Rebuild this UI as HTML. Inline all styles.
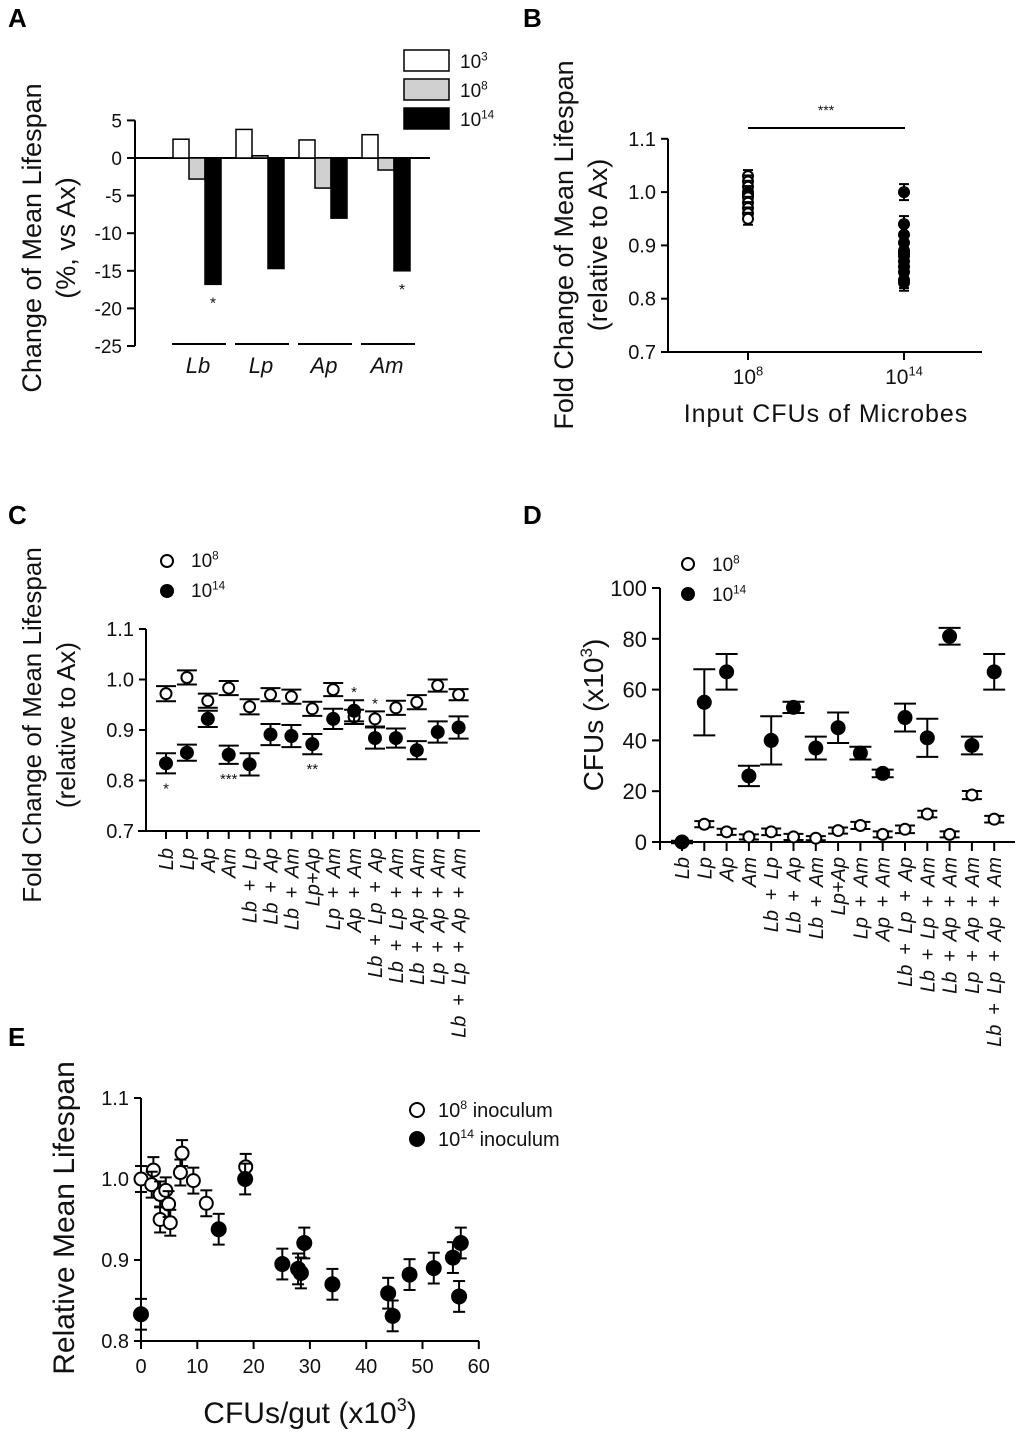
<!DOCTYPE html>
<html><head><meta charset="utf-8"><style>
html,body{margin:0;padding:0;background:#fff;}
svg{display:block;font-family:"Liberation Sans",Arial,sans-serif;}
</style></head><body>
<svg id="fig" width="1020" height="1435" viewBox="0 0 1020 1435" xmlns="http://www.w3.org/2000/svg"></svg>
<script>
// ---------- Panel A data ----------
const aGroups = ["Lb","Lp","Ap","Am"];
const aLow = [2.5, 3.8, 2.4, 3.1];
const aMid = [-2.8, 0.3, -4.0, -1.6];
const aHigh = [-16.8, -14.7, -8.0, -15.0];
const aTicks = [5,0,-5,-10,-15,-20,-25];
// ---------- Panel B data ----------
const bOpen = [1.03,1.02,1.01,1.0,0.995,0.99,0.98,0.97,0.96,0.95];
const bFilled = [1.0,0.94,0.92,0.905,0.89,0.885,0.88,0.87,0.86,0.85,0.835,0.83];
const bTicks = [1.1,1.0,0.9,0.8,0.7];
// ---------- Panel C data ----------
const combos = ["Lb","Lp","Ap","Am","Lb + Lp","Lb + Ap","Lb + Am","Lp+Ap","Lp + Am","Ap + Am","Lb + Lp + Ap","Lb + Lp + Am","Lb + Ap + Am","Lp + Ap + Am","Lb + Lp + Ap + Am"];
const cOpen = [0.972,1.004,0.958,0.983,0.946,0.970,0.966,0.942,0.980,0.926,0.922,0.944,0.955,0.988,0.970];
const cOpenErr = [0.015,0.014,0.014,0.014,0.015,0.013,0.014,0.014,0.013,0.014,0.015,0.014,0.014,0.012,0.011];
const cFilled = [0.834,0.855,0.922,0.851,0.832,0.891,0.888,0.872,0.922,0.938,0.884,0.884,0.860,0.896,0.905];
const cFilledErr = [0.02,0.016,0.016,0.018,0.022,0.021,0.022,0.02,0.02,0.021,0.021,0.019,0.018,0.021,0.022];
const cTicks = [1.1,1.0,0.9,0.8,0.7];
// ---------- Panel D data ----------
const dOpen = [0,7,4,2,4,2,1.5,4.5,6.5,3,5,11,3,18.5,9];
const dOpenErr = [0,1.2,1.2,1,1.3,1.2,0.8,1.2,1.4,1.2,1.5,1.3,1.2,1.6,1.3];
const dFilled = [0,55,67,26,40,53,37,45,35,27,49,41,81,38,67];
const dFilledErr = [0.5,13,7,4,9.5,2.2,4.5,6,2.5,1.5,5.5,7.5,3.3,3.5,7];
const dTicks = [0,20,40,60,80,100];
// ---------- Panel E data ----------
const eOpenX = [0,2.2,1.9,3.4,3.4,4.4,4.9,5.2,7.3,7.0,9.3,11.6,18.6];
const eOpenY = [1.0,1.011,0.993,0.981,0.950,0.986,0.969,0.946,1.032,1.008,0.998,0.970,1.015];
const eFilledX = [0,13.8,18.5,25.1,27.9,28.4,29.0,34.0,43.9,44.7,47.7,52.0,55.4,56.8,56.5];
const eFilledY = [0.833,0.938,1.0,0.895,0.889,0.884,0.921,0.870,0.859,0.831,0.882,0.890,0.903,0.921,0.855];
const eXTicks = [0,10,20,30,40,50,60];
const eYTicks = [1.1,1.0,0.9,0.8];

const NS="http://www.w3.org/2000/svg";
const svg=document.getElementById('fig');
function mk(tag,attrs,parent){const e=document.createElementNS(NS,tag);for(const k in attrs)e.setAttribute(k,attrs[k]);(parent||svg).appendChild(e);return e;}
function line(x1,y1,x2,y2,w,p){return mk('line',{x1,y1,x2,y2,stroke:'#000','stroke-width':w||2},p);}
function txt(x,y,s,size,p,extra){const t=mk('text',Object.assign({x,y,'font-size':size,fill:'#111'},extra||{}),p);t.textContent=s;return t;}
function supTxt(x,y,base,sup,size,p,anchor){const t=mk('text',{x,y,'font-size':size,fill:'#111','text-anchor':anchor||'start'},p);
  const a=mk('tspan',{},t);a.textContent=base;const b=mk('tspan',{dy:-size*0.4,'font-size':size*0.62},t);b.textContent=sup;
  if(arguments[7]){const c=mk('tspan',{dy:size*0.4},t);c.textContent=arguments[7];}return t;}
function grp(name){const g=mk('g',{});return g;}

// Panel letters
[['A',8,27],['B',523,27],['C',8,524],['D',523,524],['E',8,1046]].forEach(([l,x,y])=>{
  const t=txt(x,y,l,26,svg,{'font-weight':'bold',fill:'#000'});
  
  
});

// ---------------- Panel A ----------------
(function(){
  const g=grp('panel-a-bar-chart');
  const ax=135, y0=158, k=37.6/5;
  const ya=v=>y0-v*k;
  const ga=grp('panel-a-y-axis'); g.appendChild(ga);
  line(ax,ya(5),ax,ya(-25),2,ga);
  aTicks.forEach(v=>{line(ax-8,ya(v),ax,ya(v),2,ga);
    const t=txt(ax-13,ya(v)+7,String(v),19,ga,{'text-anchor':'end'});
    });
  line(ax,y0,430,y0,2,g);
  const gx=i=>173+i*63, bw=16;
  const series=[[aLow,'#fff'],[aMid,'#d0d0d0'],[aHigh,'#000']];
  aGroups.forEach((name,i)=>{
    series.forEach(([arr,fill],j)=>{
      const v=arr[i];const x=gx(i)+j*bw;
      const r=mk('rect',{x,y:Math.min(ya(v),y0),width:bw,height:Math.abs(ya(v)-y0),fill,stroke:'#000','stroke-width':1.5},g);
      
      
    });
    line(gx(i)-1,344,gx(i)+53,344,2,g);
    const t=txt(gx(i)+25,373,name,22,g,{'text-anchor':'middle','font-style':'italic'});
    
  });
  txt(gx(0)+2*bw+8,ya(aHigh[0])+24,'*',16,g,{'text-anchor':'middle'});
  txt(gx(3)+2*bw+8,ya(aHigh[3])+24,'*',16,g,{'text-anchor':'middle'});
  const lg=grp('panel-a-legend');g.appendChild(lg);
  [['#fff','3'],['#d0d0d0','8'],['#000','14']].forEach(([f,s],i)=>{
    mk('rect',{x:404,y:50+i*29,width:45,height:21,fill:f,stroke:'#000','stroke-width':1.5},lg);
    supTxt(460,68+i*29,'10',s,19,lg);
  });
  const yt=mk('text',{transform:'translate(41,238) rotate(-90)','text-anchor':'middle','font-size':27,fill:'#111'},g);yt.textContent='Change of Mean Lifespan';
  
  const yt2=mk('text',{transform:'translate(75,238) rotate(-90)','text-anchor':'middle','font-size':27,fill:'#111'},g);yt2.textContent='(%, vs Ax)';
})();

// ---------------- Panel B ----------------
(function(){
  const g=grp('panel-b-scatter');
  const ax=668, y07=352, k=53.3;
  const yb=v=>y07-(v-0.7)*10*k;
  line(ax,yb(1.1),ax,y07,2,g);
  line(662,y07,982,y07,2,g);
  bTicks.forEach(v=>{line(ax-7,yb(v),ax,yb(v),2,g);txt(ax-12,yb(v)+7,v.toFixed(1),20,g,{'text-anchor':'end'});});
  const cx=[748,904];
  cx.forEach(x=>line(x,y07,x,y07+8,2,g));
  supTxt(748,384,'10','8',21,g,'middle');
  supTxt(904,384,'10','14',21,g,'middle');
  line(748,128,905,128,2,g);
  txt(826,115,'***',14,g,{'text-anchor':'middle'});
  bOpen.forEach(v=>{const y=yb(v);line(cx[0],y-6,cx[0],y+6,2,g);line(cx[0]-5,y-6,cx[0]+5,y-6,2,g);line(cx[0]-5,y+6,cx[0]+5,y+6,2,g);
    const c=mk('circle',{cx:cx[0],cy:y,r:5,fill:'#fff',stroke:'#000','stroke-width':2},g);});
  bFilled.forEach(v=>{const y=yb(v);line(cx[1],y-8,cx[1],y+8,2,g);line(cx[1]-5,y-8,cx[1]+5,y-8,2,g);line(cx[1]-5,y+8,cx[1]+5,y+8,2,g);
    const c=mk('circle',{cx:cx[1],cy:y,r:6,fill:'#000'},g);});
  const xt=txt(826,422,'Input CFUs of Microbes',25,g,{'text-anchor':'middle','letter-spacing':'1'});
  
  const y1=mk('text',{transform:'translate(573,245) rotate(-90)','text-anchor':'middle','font-size':27,fill:'#111'},g);y1.textContent='Fold Change of Mean Lifespan';
  
  const y2=mk('text',{transform:'translate(607,245) rotate(-90)','text-anchor':'middle','font-size':27,fill:'#111'},g);y2.textContent='(relative to Ax)';
})();

function errPoint(g,x,y,ylo,yhi,cap,r,filled,name){
  line(x,ylo,x,yhi,2,g);line(x-cap,ylo,x+cap,ylo,2,g);line(x-cap,yhi,x+cap,yhi,2,g);
  const c=mk('circle',{cx:x,cy:y,r,fill:filled?'#000':'#fff',stroke:'#000','stroke-width':2},g);
  
}
function catLabels(g,xs,top){
  combos.forEach((s,i)=>{const t=mk('text',{transform:`translate(${xs(i)+7},${top}) rotate(-90)`,'text-anchor':'end','font-size':20,'word-spacing':'4','font-style':'italic',fill:'#111'},g);t.textContent=s;
    });
}

// ---------------- Panel C ----------------
(function(){
  const g=grp('panel-c-dot-plot');
  const ax=146,y07=831,k=50.5;
  const yc=v=>y07-(v-0.7)*10*k;
  const xc=i=>166+i*20.9;
  line(ax,yc(1.1),ax,y07,2,g);line(138,y07,480,y07,2,g);
  cTicks.forEach(v=>{line(ax-7,yc(v),ax,yc(v),2,g);txt(ax-12,yc(v)+7,v.toFixed(1),20,g,{'text-anchor':'end'});});
  combos.forEach((s,i)=>line(xc(i),y07,xc(i),y07+8,2,g));
  combos.forEach((s,i)=>{
    errPoint(g,xc(i),yc(cOpen[i]),yc(cOpen[i]-cOpenErr[i]),yc(cOpen[i]+cOpenErr[i]),10,5.5,false,'c-point-1e8');
    errPoint(g,xc(i),yc(cFilled[i]),yc(cFilled[i]-cFilledErr[i]),yc(cFilled[i]+cFilledErr[i]),10,6,true,'c-point-1e14');
  });
  txt(xc(0),yc(cFilled[0]-cFilledErr[0])+20,'*',15,g,{'text-anchor':'middle'});
  txt(xc(3),yc(cFilled[3]-cFilledErr[3])+20,'***',15,g,{'text-anchor':'middle'});
  txt(xc(7),yc(cFilled[7]-cFilledErr[7])+20,'**',15,g,{'text-anchor':'middle'});
  txt(xc(9),yc(cFilled[9]+cFilledErr[9])-3,'*',15,g,{'text-anchor':'middle'});
  txt(xc(10),yc(cOpen[10]+cOpenErr[10])-3,'*',15,g,{'text-anchor':'middle'});
  catLabels(g,xc,848);
  const lg=grp('panel-c-legend');g.appendChild(lg);
  mk('circle',{cx:167,cy:561,r:6,fill:'#fff',stroke:'#000','stroke-width':2},lg);
  mk('circle',{cx:167,cy:591,r:7,fill:'#000'},lg);
  supTxt(191,567,'10','8',19,lg);supTxt(191,597,'10','14',19,lg);
  const y1=mk('text',{transform:'translate(41,725) rotate(-90)','text-anchor':'middle','font-size':26,fill:'#111'},g);y1.textContent='Fold Change of Mean Lifespan';
  
  const y2=mk('text',{transform:'translate(75,725) rotate(-90)','text-anchor':'middle','font-size':26,fill:'#111'},g);y2.textContent='(relative to Ax)';
})();

// ---------------- Panel D ----------------
(function(){
  const g=grp('panel-d-dot-plot');
  const ax=660,y0=842,k=254/100;
  const yd=v=>y0-v*k;
  const xd=i=>682+i*22.3;
  line(ax,yd(100),ax,y0+8,2,g);line(ax-8,y0,1015,y0,2,g);
  dTicks.forEach(v=>{line(ax-8,yd(v),ax,yd(v),2,g);txt(ax-13,yd(v)+8,String(v),22,g,{'text-anchor':'end'});});
  combos.forEach((s,i)=>line(xd(i),y0,xd(i),y0+9,2,g));
  combos.forEach((s,i)=>{
    if(dOpen[i]>0) errPoint(g,xd(i),yd(dOpen[i]),yd(dOpen[i]-dOpenErr[i]),yd(dOpen[i]+dOpenErr[i]),10,5.5,false,'d-point-1e8');
    errPoint(g,xd(i),yd(dFilled[i]),yd(dFilled[i]-dFilledErr[i]),yd(dFilled[i]+dFilledErr[i]),11,6.5,true,'d-point-1e14');
  });
  catLabels(g,xd,857);
  const lg=grp('panel-d-legend');g.appendChild(lg);
  mk('circle',{cx:688,cy:564,r:6,fill:'#fff',stroke:'#000','stroke-width':2},lg);
  mk('circle',{cx:688,cy:594,r:7,fill:'#000'},lg);
  supTxt(712,571,'10','8',19,lg);supTxt(712,601,'10','14',19,lg);
  const yt=mk('text',{transform:'translate(603,715) rotate(-90)','text-anchor':'middle','font-size':28,fill:'#111'},g);
  
  const a=mk('tspan',{},yt);a.textContent='CFUs (x10';const b=mk('tspan',{dy:-11,'font-size':17},yt);b.textContent='3';const c=mk('tspan',{dy:11},yt);c.textContent=')';
})();

// ---------------- Panel E ----------------
(function(){
  const g=grp('panel-e-scatter');
  const ax=141,y08=1341,ky=81,kx=56.3/10;
  const ye=v=>y08-(v-0.8)*10*ky;
  const xe=v=>ax+v*kx;
  line(ax,ye(1.1),ax,y08+8,2,g);line(ax-7,y08,479,y08,2,g);
  eYTicks.forEach(v=>{line(ax-7,ye(v),ax,ye(v),2,g);txt(ax-12,ye(v)+7,v.toFixed(1),20,g,{'text-anchor':'end'});});
  eXTicks.forEach(v=>{line(xe(v),y08,xe(v),y08+8,2,g);txt(xe(v),y08+32,String(v),20,g,{'text-anchor':'middle'});});
  eOpenX.forEach((xv,i)=>errPoint(g,xe(xv),ye(eOpenY[i]),ye(eOpenY[i]-0.016),ye(eOpenY[i]+0.016),6,6.5,false,'e-point-1e8'));
  eFilledX.forEach((xv,i)=>errPoint(g,xe(xv),ye(eFilledY[i]),ye(eFilledY[i]-0.019),ye(eFilledY[i]+0.019),6,7,true,'e-point-1e14'));
  const lg=grp('panel-e-legend');g.appendChild(lg);
  mk('circle',{cx:417,cy:1110,r:7,fill:'#fff',stroke:'#000','stroke-width':2},lg);
  mk('circle',{cx:417,cy:1139,r:8,fill:'#000'},lg);
  supTxt(438,1117,'10','8',20,lg,'start',' inoculum');supTxt(438,1146,'10','14',20,lg,'start',' inoculum');
  const yt=mk('text',{transform:'translate(74,1218) rotate(-90)','text-anchor':'middle','font-size':30,fill:'#111'},g);yt.textContent='Relative Mean Lifespan';
  
  const xt=mk('text',{x:310,y:1423,'text-anchor':'middle','font-size':30,fill:'#111'},g);
  
  const a=mk('tspan',{},xt);a.textContent='CFUs/gut (x10';const b=mk('tspan',{dy:-12,'font-size':18},xt);b.textContent='3';const c=mk('tspan',{dy:12},xt);c.textContent=')';
})();
</script>
</body></html>
